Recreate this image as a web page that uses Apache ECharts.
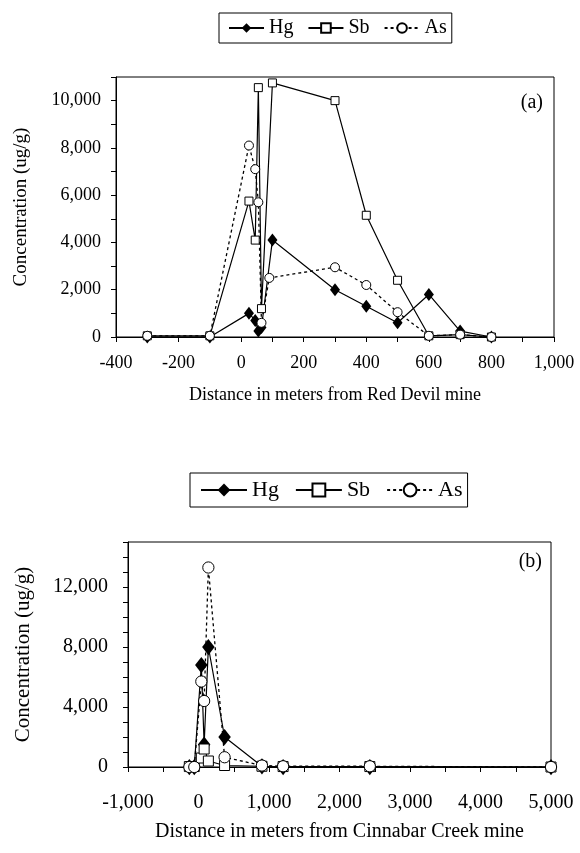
<!DOCTYPE html>
<html>
<head>
<meta charset="utf-8">
<script src="https://cdn.jsdelivr.net/npm/echarts@6/dist/echarts.min.js"></script>
<style>
  html, body { margin: 0; padding: 0; background: #fff; }
  #chart { width: 580px; height: 853px; }
</style>
</head>
<body>
<div id="chart"></div>
<script>
// (a) Red Devil mine
const distA   = [-300, -100, 25, 45, 55, 65, 100, 300, 400, 500, 600, 700, 800];
const hgA     = [0, 0, 1000, 700, 250, 400, 4100, 2000, 1300, 600, 1800, 250, 0];
const sbA     = [50, 50, 5750, 4100, 10550, 1200, 10750, 10000, 5150, 2400, 50, 100, 0];
const asDistA = [-300, -100, 25, 45, 55, 65, 90, 300, 400, 500, 600, 700, 800];
const asA     = [50, 50, 8100, 7100, 5700, 600, 2500, 2950, 2200, 1050, 50, 100, 0];

// (b) Cinnabar Creek mine
const distB = [-130, -60, 40, 80, 140, 370, 900, 1200, 2430, 5000];
const hgB   = [0, 0, 6800, 1500, 8000, 2000, 50, 0, 0, 0];
const sbB   = [30, 30, 600, 1200, 400, 100, 50, 30, 30, 0];
const asB   = [0, 0, 5700, 4400, 13300, 650, 100, 50, 50, 0];

const names = ['Hg', 'Sb', 'As'];
const FONT = 'Liberation Serif';

function fmt(v) {
    return String(v).replace(/\B(?=(\d{3})+(?!\d))/g, ',');
}
function pairs(xs, ys) {
    return xs.map((x, i) => [x, ys[i]]);
}

function seriesFor(idx, hg, sb, as, big) {
    const k = big ? 1.25 : 1;
    return [
        {
            name: 'Hg', type: 'line', xAxisIndex: idx, yAxisIndex: idx,
            data: hg, symbol: 'diamond', symbolSize: [10 * k, 13 * k],
            itemStyle: { color: '#000' },
            lineStyle: { color: '#000', width: 1.2 }
        },
        {
            name: 'Sb', type: 'line', xAxisIndex: idx, yAxisIndex: idx,
            data: sb, symbol: 'rect', symbolSize: 8 * k,
            itemStyle: { color: '#fff', borderColor: '#000', borderWidth: 1 },
            lineStyle: { color: '#000', width: 1.2 }
        },
        {
            name: 'As', type: 'line', xAxisIndex: idx, yAxisIndex: idx,
            data: as, symbol: 'circle', symbolSize: 9 * k,
            itemStyle: { color: '#fff', borderColor: '#000', borderWidth: 1 },
            lineStyle: { color: '#000', width: 1.3, type: [3, 3] }
        }
    ].map(s => Object.assign(s, { showAllSymbol: true, animation: false }));
}

const axisCommon = {
    type: 'value',
    axisLine: { show: true, onZero: false, lineStyle: { color: '#000', width: 1 } },
    axisTick: { show: true, length: 5, lineStyle: { color: '#000' } },
    splitLine: { show: false },
    nameLocation: 'middle',
    nameTextStyle: { color: '#000', fontFamily: FONT }
};

const chart = echarts.init(document.getElementById('chart'));
chart.setOption({
    backgroundColor: '#fff',
    animation: false,
    title: [
        { text: '(a)', right: 32, top: 88, textStyle: { fontFamily: FONT, fontSize: 20, fontWeight: 'normal', color: '#000' } },
        { text: '(b)', right: 33, top: 547, textStyle: { fontFamily: FONT, fontSize: 20, fontWeight: 'normal', color: '#000' } }
    ],
    legend: [
        {
            data: names, left: 219, top: 13, orient: 'horizontal',
            itemWidth: 35, itemHeight: 12, itemGap: 14,
            padding: [5, 5, 5, 9],
            borderColor: '#000', borderWidth: 1,
            textStyle: { fontFamily: FONT, fontSize: 20, color: '#000' }
        },
        {
            data: names, left: 190, top: 473, orient: 'horizontal',
            itemWidth: 46, itemHeight: 16, itemGap: 16,
            padding: [6, 5, 6, 10],
            borderColor: '#000', borderWidth: 1,
            textStyle: { fontFamily: FONT, fontSize: 22, color: '#000' }
        }
    ],
    grid: [
        { left: 116, top: 77, right: 26, height: 260, show: true, borderColor: '#000', borderWidth: 1 },
        { left: 128, top: 542, right: 29, height: 225, show: true, borderColor: '#000', borderWidth: 1 }
    ],
    xAxis: [
        Object.assign({}, axisCommon, {
            gridIndex: 0, min: -400, max: 1000, interval: 100,
            name: 'Distance in meters from Red Devil mine', nameGap: 49,
            nameTextStyle: { color: '#000', fontFamily: FONT, fontSize: 18 },
            axisLabel: {
                margin: 17, color: '#000', fontFamily: FONT, fontSize: 18,
                formatter: v => (v % 200 === 0 ? fmt(v) : '')
            }
        }),
        Object.assign({}, axisCommon, {
            gridIndex: 1, min: -1000, max: 5000, interval: 500,
            name: 'Distance in meters from Cinnabar Creek mine', nameGap: 55,
            nameTextStyle: { color: '#000', fontFamily: FONT, fontSize: 20 },
            axisLabel: {
                margin: 26, color: '#000', fontFamily: FONT, fontSize: 20,
                formatter: v => (v % 1000 === 0 ? fmt(v) : '')
            }
        })
    ],
    yAxis: [
        Object.assign({}, axisCommon, {
            gridIndex: 0, min: 0, max: 11000, interval: 1000,
            name: 'Concentration (ug/g)', nameGap: 85,
            nameTextStyle: { color: '#000', fontFamily: FONT, fontSize: 19 },
            axisLabel: {
                margin: 15, color: '#000', fontFamily: FONT, fontSize: 18,
                formatter: v => (v % 2000 === 0 ? fmt(v) : '')
            }
        }),
        Object.assign({}, axisCommon, {
            gridIndex: 1, min: 0, max: 15000, interval: 1000,
            name: 'Concentration (ug/g)', nameGap: 94,
            nameTextStyle: { color: '#000', fontFamily: FONT, fontSize: 21 },
            axisLabel: {
                margin: 20, color: '#000', fontFamily: FONT, fontSize: 20,
                formatter: v => (v % 4000 === 0 ? fmt(v) : '')
            }
        })
    ],
    series: [].concat(
        seriesFor(0, pairs(distA, hgA), pairs(distA, sbA), pairs(asDistA, asA), false),
        seriesFor(1, pairs(distB, hgB), pairs(distB, sbB), pairs(distB, asB), true)
    )
});
</script>
</body>
</html>
